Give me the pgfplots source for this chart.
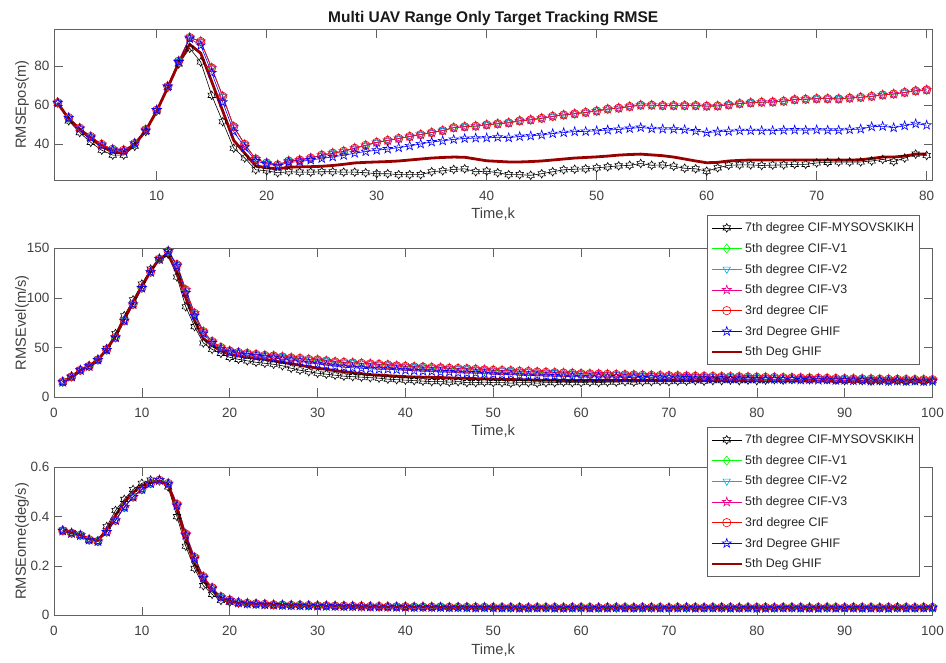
\documentclass[border=0pt]{standalone}
\usepackage{pgfplots}
\pgfplotsset{compat=1.18}
\usepackage{pgfplotstable}
\usepackage{fontspec}
\setmainfont{Liberation Sans}
\usetikzlibrary{plotmarks}

\definecolor{axgray}{gray}{0.38}
\definecolor{txgray}{gray}{0.25}
\definecolor{dkred}{rgb}{0.6,0,0}

% 6-pointed star (MATLAB 'h' marker)
\pgfdeclareplotmark{hexagram}{%
  \pgfpathmoveto{\pgfpointpolar{90}{\pgfplotmarksize}}%
  \pgfpathlineto{\pgfpointpolar{120}{0.577\pgfplotmarksize}}%
  \pgfpathlineto{\pgfpointpolar{150}{\pgfplotmarksize}}%
  \pgfpathlineto{\pgfpointpolar{180}{0.577\pgfplotmarksize}}%
  \pgfpathlineto{\pgfpointpolar{210}{\pgfplotmarksize}}%
  \pgfpathlineto{\pgfpointpolar{240}{0.577\pgfplotmarksize}}%
  \pgfpathlineto{\pgfpointpolar{270}{\pgfplotmarksize}}%
  \pgfpathlineto{\pgfpointpolar{300}{0.577\pgfplotmarksize}}%
  \pgfpathlineto{\pgfpointpolar{330}{\pgfplotmarksize}}%
  \pgfpathlineto{\pgfpointpolar{0}{0.577\pgfplotmarksize}}%
  \pgfpathlineto{\pgfpointpolar{30}{\pgfplotmarksize}}%
  \pgfpathlineto{\pgfpointpolar{60}{0.577\pgfplotmarksize}}%
  \pgfpathclose\pgfusepathqstroke}

% 5-pointed outlined star (MATLAB 'p' marker)
\pgfdeclareplotmark{pentagram}{%
  \pgfpathmoveto{\pgfpointpolar{90}{\pgfplotmarksize}}%
  \pgfpathlineto{\pgfpointpolar{126}{0.382\pgfplotmarksize}}%
  \pgfpathlineto{\pgfpointpolar{162}{\pgfplotmarksize}}%
  \pgfpathlineto{\pgfpointpolar{198}{0.382\pgfplotmarksize}}%
  \pgfpathlineto{\pgfpointpolar{234}{\pgfplotmarksize}}%
  \pgfpathlineto{\pgfpointpolar{270}{0.382\pgfplotmarksize}}%
  \pgfpathlineto{\pgfpointpolar{306}{\pgfplotmarksize}}%
  \pgfpathlineto{\pgfpointpolar{342}{0.382\pgfplotmarksize}}%
  \pgfpathlineto{\pgfpointpolar{18}{\pgfplotmarksize}}%
  \pgfpathlineto{\pgfpointpolar{54}{0.382\pgfplotmarksize}}%
  \pgfpathclose\pgfusepathqstroke}

% columns: k7 = 7th degree CIF-Mysovskikh, cif = CIF-V1/V2/V3/3rd CIF (overlapping),
% gh3 = 3rd degree GHIF, gh5 = 5th deg GHIF
\pgfplotstableread{
x k7 cif gh3 gh5
1 61.0 61.3 61.2 61.0
2 52.0 53.6 53.5 53.0
3 46.0 48.3 48.0 47.5
4 41.0 44.0 43.5 43.0
5 37.0 40.0 39.5 39.0
6 34.5 37.5 37.0 36.0
7 34.5 37.0 36.5 35.5
8 39.0 40.5 40.5 40.0
9 46.5 47.5 47.0 47.0
10 57.0 57.5 57.5 57.0
11 69.0 69.5 69.5 69.0
12 81.0 82.5 82.0 81.5
13 89.0 94.5 94.0 91.0
14 82.0 92.5 90.5 86.5
15 65.0 79.0 76.5 72.0
16 51.5 64.5 61.5 57.0
17 38.0 49.0 46.5 42.0
18 33.0 40.0 38.5 35.5
19 27.0 32.5 31.5 29.0
20 26.5 30.5 30.0 28.0
21 25.5 29.5 29.0 27.5
22 26.0 31.5 30.8 28.3
23 25.8 32.0 31.2 28.5
24 25.8 33.0 32.0 28.6
25 26.0 34.5 32.8 28.8
26 26.0 35.5 33.6 29.2
27 25.8 36.5 34.4 29.8
28 25.8 38.0 35.5 30.5
29 25.5 39.5 36.3 30.8
30 25.0 41.0 37.0 31.0
31 25.0 42.0 37.6 31.2
32 24.5 43.0 38.3 31.5
33 24.5 44.0 39.2 32.0
34 24.5 45.0 40.2 32.5
35 26.0 46.0 41.2 33.0
36 26.5 47.0 41.8 33.3
37 27.2 48.5 42.5 33.5
38 27.5 49.0 43.0 33.4
39 26.0 49.3 43.2 32.5
40 26.3 50.0 43.3 31.6
41 25.5 50.5 43.6 31.3
42 24.5 51.0 43.4 31.0
43 24.5 52.0 44.0 31.0
44 24.2 52.5 44.3 31.2
45 25.0 53.3 44.8 31.5
46 26.0 54.3 45.5 32.0
47 27.0 55.0 46.0 32.5
48 27.3 55.6 46.5 33.0
49 27.5 56.3 46.6 33.3
50 28.0 57.0 46.9 33.6
51 28.5 58.0 47.3 34.0
52 29.0 58.5 47.6 34.5
53 29.3 59.3 48.1 34.8
54 30.2 60.0 48.6 35.0
55 29.3 60.0 48.0 34.6
56 29.5 59.8 47.8 34.2
57 28.8 59.8 47.7 33.5
58 27.8 59.8 47.5 32.5
59 27.5 59.8 46.8 31.5
60 26.3 59.5 46.0 30.6
61 28.0 59.6 46.4 30.8
62 29.3 60.2 46.6 31.5
63 29.5 60.8 47.0 31.8
64 29.5 61.2 47.0 32.0
65 29.2 61.5 47.0 32.0
66 29.4 61.6 47.0 32.0
67 29.5 62.0 47.2 32.0
68 29.8 62.8 47.3 32.0
69 29.8 63.0 47.2 32.0
70 30.5 63.3 47.4 32.0
71 30.8 63.3 47.2 32.0
72 31.0 63.2 47.2 32.0
73 31.0 63.6 47.5 32.0
74 31.0 64.0 47.8 32.1
75 31.5 64.5 49.0 32.8
76 32.3 65.2 49.2 33.5
77 31.2 65.7 48.5 33.5
78 33.0 66.5 49.5 34.0
79 35.0 67.3 50.5 35.0
80 34.3 67.8 49.8 35.0
}\pos

\pgfplotstableread{
x k7 cif gh3 gh5
1 15.0 15.5 15.0 15.0
2 20.5 20.5 20.5 20.5
3 27.5 27.0 27.0 27.0
4 31.5 31.0 31.0 31.3
5 38.0 37.5 37.5 37.5
6 49.0 47.5 47.5 48.0
7 64.0 60.0 60.0 61.5
8 82.0 77.0 77.0 79.0
9 98.0 93.5 93.5 95.0
10 114.0 110.0 110.0 111.5
11 129.0 126.0 126.0 127.0
12 140.0 139.0 139.0 139.5
13 144.0 147.0 147.0 143.5
14 121.0 133.5 132.0 126.0
15 91.0 108.0 105.0 100.0
16 71.0 84.5 82.0 77.0
17 54.5 66.0 64.0 59.0
18 48.0 56.0 54.5 52.0
19 44.0 50.0 48.5 46.5
20 40.0 46.5 45.5 43.0
21 38.0 45.0 44.0 41.5
22 36.5 44.0 42.5 40.0
23 35.0 43.0 41.5 39.0
24 34.0 42.0 40.5 38.0
25 33.0 41.5 39.5 36.5
26 31.5 40.5 38.0 35.0
27 29.0 39.5 37.0 33.5
28 27.0 39.0 36.0 32.0
29 25.5 38.0 34.5 30.5
30 24.0 37.5 33.5 29.0
31 23.0 36.5 32.0 28.0
32 22.0 35.5 31.0 26.5
33 21.0 35.0 30.0 25.5
34 20.5 34.5 29.5 24.5
35 20.0 34.0 29.0 23.5
36 19.5 33.5 28.5 22.5
37 19.0 33.0 28.0 22.0
38 18.0 32.5 28.0 21.5
39 17.5 31.5 27.5 21.0
40 17.0 31.0 27.0 20.5
41 16.5 30.5 26.5 20.2
42 16.0 30.2 26.0 20.0
43 15.5 29.8 25.8 19.8
44 15.5 29.5 25.0 19.6
45 15.0 29.0 25.2 19.3
46 15.5 28.8 24.5 19.0
47 14.5 28.5 24.0 18.8
48 14.5 28.0 24.2 18.5
49 15.0 27.5 23.5 18.3
50 14.5 27.0 23.0 18.0
51 14.5 26.8 22.5 17.8
52 14.0 26.5 22.8 17.6
53 14.5 26.0 22.0 17.4
54 14.5 25.8 21.5 17.2
55 14.0 25.3 21.8 17.0
56 14.5 25.0 21.0 16.9
57 14.5 24.6 21.2 16.8
58 15.0 24.3 20.6 16.7
59 14.5 24.0 20.8 16.6
60 14.5 23.6 20.3 16.5
61 15.0 23.4 20.0 16.5
62 14.5 23.2 20.5 16.5
63 15.0 23.0 19.8 16.5
64 15.0 22.8 20.2 16.5
65 15.5 22.5 19.5 16.5
66 15.0 22.3 19.8 16.5
67 15.5 22.0 19.2 16.5
68 15.5 21.9 19.6 16.5
69 16.0 21.7 19.0 16.5
70 15.5 21.5 19.3 16.5
71 16.0 21.4 18.8 16.5
72 16.0 21.2 19.2 16.5
73 16.5 21.0 18.6 16.5
74 16.0 20.9 18.9 16.5
75 16.5 20.8 18.4 16.5
76 16.5 20.6 18.8 16.5
77 17.0 20.5 18.2 16.5
78 16.5 20.4 18.5 16.5
79 17.0 20.2 18.0 16.5
80 16.5 20.0 18.3 16.5
81 17.0 19.9 17.8 16.4
82 17.5 19.8 18.0 16.4
83 17.0 19.6 17.5 16.3
84 17.5 19.5 17.8 16.3
85 18.0 19.3 17.2 16.2
86 17.5 19.2 17.6 16.2
87 18.5 19.0 17.0 16.1
88 17.5 18.9 17.3 16.1
89 17.0 18.7 16.8 16.0
90 16.5 18.5 17.0 16.0
91 17.0 18.4 16.5 16.0
92 16.5 18.3 16.8 15.9
93 16.0 18.2 16.2 15.9
94 16.5 18.0 16.5 15.8
95 16.0 17.9 16.0 15.8
96 16.5 17.8 16.3 15.7
97 16.0 17.7 15.8 15.7
98 16.5 17.6 16.1 15.6
99 16.0 17.5 15.7 15.6
100 16.5 17.5 16.0 15.5
}\vel

\pgfplotstableread{
x k7 cif gh3 gh5
1 .345 .343 .343 .343
2 .335 .333 .333 .335
3 .325 .325 .324 .325
4 .305 .307 .306 .310
5 .300 .300 .300 .305
6 .360 .338 .338 .345
7 .425 .385 .385 .405
8 .470 .438 .438 .458
9 .510 .480 .480 .498
10 .535 .510 .512 .525
11 .548 .535 .535 .540
12 .545 .548 .548 .545
13 .520 .535 .532 .528
14 .400 .450 .445 .430
15 .280 .330 .325 .310
16 .190 .235 .230 .210
17 .120 .157 .152 .140
18 .085 .112 .108 .100
19 .060 .075 .072 .070
20 .053 .062 .060 .057
21 .049 .052 .051 .050
22 .047 .049 .047 .047
23 .045 .047 .045 .045
24 .043 .045 .043 .044
25 .042 .043 .042 .042
26 .041 .042 .041 .041
27 .040 .041 .040 .040
28 .040 .041 .039 .040
29 .039 .040 .039 .039
30 .038 .039 .038 .038
31 .038 .039 .037 .037
32 .037 .038 .037 .037
33 .036 .038 .036 .036
34 .036 .037 .036 .036
35 .035 .037 .035 .035
36 .035 .036 .034 .035
37 .034 .036 .034 .034
38 .034 .035 .034 .034
39 .034 .035 .033 .034
40 .033 .035 .033 .033
41 .033 .034 .032 .033
42 .033 .034 .033 .033
43 .032 .034 .032 .033
44 .033 .034 .032 .032
45 .032 .033 .031 .032
46 .032 .033 .032 .032
47 .032 .033 .031 .032
48 .031 .033 .030 .032
49 .032 .033 .031 .031
50 .031 .032 .031 .031
51 .031 .032 .030 .031
52 .030 .032 .031 .031
53 .031 .032 .029 .030
54 .030 .031 .030 .030
55 .031 .032 .030 .031
56 .030 .032 .031 .031
57 .031 .032 .029 .030
58 .030 .031 .030 .030
59 .031 .032 .030 .031
60 .030 .032 .031 .031
61 .031 .032 .029 .030
62 .030 .031 .030 .030
63 .031 .032 .030 .031
64 .030 .032 .031 .031
65 .031 .032 .029 .030
66 .030 .031 .030 .030
67 .031 .032 .030 .031
68 .030 .032 .031 .031
69 .031 .032 .029 .030
70 .030 .031 .030 .030
71 .031 .032 .030 .031
72 .030 .032 .031 .031
73 .031 .032 .029 .030
74 .030 .031 .030 .030
75 .031 .032 .030 .031
76 .030 .032 .031 .031
77 .031 .032 .029 .030
78 .030 .031 .030 .030
79 .031 .032 .030 .031
80 .030 .032 .028 .031
81 .031 .032 .029 .030
82 .030 .031 .030 .030
83 .031 .032 .030 .031
84 .030 .032 .031 .031
85 .031 .032 .029 .030
86 .030 .031 .030 .030
87 .031 .032 .028 .031
88 .030 .032 .031 .031
89 .031 .032 .029 .030
90 .030 .031 .030 .030
91 .031 .032 .030 .031
92 .030 .032 .029 .031
93 .031 .032 .029 .030
94 .030 .031 .030 .030
95 .031 .032 .028 .031
96 .030 .032 .031 .031
97 .031 .032 .029 .030
98 .030 .031 .030 .030
99 .031 .032 .030 .031
100 .030 .032 .031 .031
}\ome

\pgfplotsset{
  matax/.style={
    scale only axis, width=878.5pt, anchor=south west, clip=false,
    axis line style={axgray, line width=0.6pt},
    every tick/.style={axgray, line width=0.6pt},
    major tick length=8.5pt, tick align=inside, tick pos=both,
    minor tick num=0,
    tick label style={font=\fontsize{13.5}{15}\selectfont, text=txgray},
    label style={font=\fontsize{14.7}{17}\selectfont, text=txgray},
    /pgf/number format/assume math mode=true,
    xticklabel style={anchor=center, yshift=-16pt},
    yticklabel style={xshift=-1pt},
    xlabel={Time,k},
    xlabel style={at={(axis description cs:0.5,0)}, anchor=center, yshift=-34.5pt},
    ylabel style={at={(axis description cs:-0.0364,0.5)}, anchor=center},
    legend image code/.code={\draw[mark repeat=2,mark phase=2]
      plot coordinates {(0pt,0pt) (15pt,0pt) (30pt,0pt)};},
    legend cell align=left,
  },
  sK/.style={black, line width=0.6pt, mark=hexagram, mark size=4.3pt},
  sG/.style={green, line width=0.6pt, mark=diamond, mark size=4.6pt},
  sC/.style={cyan, line width=0.6pt, mark=triangle, mark size=4.2pt, mark options={rotate=180}},
  sM/.style={magenta, line width=0.6pt, mark=pentagram, mark size=4.8pt},
  sR/.style={red, line width=0.6pt, mark=o, mark size=4.2pt},
  sB/.style={blue, line width=0.6pt, mark=pentagram, mark size=4.8pt},
  sD/.style={dkred, line width=2.8pt},
  leg/.style={legend style={at={(0.7434,#1)}, anchor=north west, draw=axgray,
    line width=0.6pt, fill=white, text=black!85,
    font=\fontsize{12.4}{14}\selectfont, inner xsep=3pt, inner ysep=5pt,
    row sep=6.2pt}},
}

\begin{document}
\begin{tikzpicture}
\useasboundingbox (0pt,0pt) rectangle (946pt,663pt);

% position
\begin{axis}[matax, at={(54pt,483pt)}, height=150.7pt,
  xmin=0.66, xmax=80.53, ymin=21.8, ymax=98.7,
  xtick={10,20,...,80}, ytick={40,60,80},
  ylabel={RMSEpos(m)},
  title={Multi UAV Range Only Target Tracking RMSE},
  every axis title shift=0pt,
  title style={font=\bfseries\fontsize{15.5}{18}\selectfont, text=black!90,
    at={(axis description cs:0.5,1)}, anchor=center, yshift=11pt}]
\addplot[sK] table[y=k7] {\pos};
\addplot[sG] table[y=cif] {\pos};
\addplot[sC] table[y=cif] {\pos};
\addplot[sM] table[y=cif] {\pos};
\addplot[sR] table[y=cif] {\pos};
\addplot[sB] table[y=gh3] {\pos};
\addplot[sD] table[y=gh5] {\pos};
\end{axis}

% velocity
\begin{axis}[matax, at={(54pt,266pt)}, height=148.7pt,
  xmin=0, xmax=100, ymin=0, ymax=150,
  xtick={0,10,...,100}, ytick={0,50,100,150},
  ylabel={RMSEvel(m/s)}, leg=1.2215]
\addplot[sK] table[y=k7] {\vel};
\addplot[sG] table[y=cif] {\vel};
\addplot[sC] table[y=cif] {\vel};
\addplot[sM] table[y=cif] {\vel};
\addplot[sR] table[y=cif] {\vel};
\addplot[sB] table[y=gh3] {\vel};
\addplot[sD] table[y=gh5] {\vel};
\legend{7th degree CIF-MYSOVSKIKH, 5th degree CIF-V1, 5th degree CIF-V2,
  5th degree CIF-V3, 3rd degree CIF, 3rd Degree GHIF, 5th Deg GHIF}
\end{axis}

% turn rate
\begin{axis}[matax, at={(54pt,47.7pt)}, height=148pt,
  xmin=0, xmax=100, ymin=0, ymax=0.6,
  xtick={0,10,...,100}, ytick={0,0.2,0.4,0.6},
  ylabel={RMSEome(deg/s)}, leg=1.27]
\addplot[sK] table[y=k7] {\ome};
\addplot[sG] table[y=cif] {\ome};
\addplot[sC] table[y=cif] {\ome};
\addplot[sM] table[y=cif] {\ome};
\addplot[sR] table[y=cif] {\ome};
\addplot[sB] table[y=gh3] {\ome};
\addplot[sD] table[y=gh5] {\ome};
\legend{7th degree CIF-MYSOVSKIKH, 5th degree CIF-V1, 5th degree CIF-V2,
  5th degree CIF-V3, 3rd degree CIF, 3rd Degree GHIF, 5th Deg GHIF}
\end{axis}
\end{tikzpicture}
\end{document}
